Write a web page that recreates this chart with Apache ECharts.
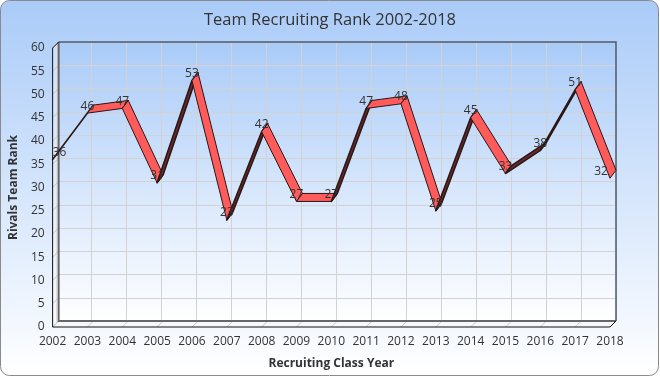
<!DOCTYPE html>
<html>
<head>
<meta charset="utf-8">
<script src="https://cdn.jsdelivr.net/npm/echarts@6/dist/echarts.min.js"></script>
<style>
html, body { margin: 0; padding: 0; background: #fff; }
#chart { width: 660px; height: 377px; }
</style>
</head>
<body>
<div id="chart"></div>
<script>
var years = ['2002', '2003', '2004', '2005', '2006', '2007', '2008', '2009', '2010',
    '2011', '2012', '2013', '2014', '2015', '2016', '2017', '2018'];
var ranks = [36, 46, 47, 31, 53, 23, 42, 27, 27, 47, 48, 25, 45, 33, 38, 51, 32];
var rankMin = 0;
var rankMax = 60;
var rankStep = 5;

var chartDom = document.getElementById('chart');
var myChart = echarts.init(chartDom);
var option;

var font = '"Open Sans", "DejaVu Sans", sans-serif';
// 3d depth of the walls and of the ribbon
var wallDX = 6, wallDY = -6;
var ribDX = 6, ribDY = -8;

function sky() {
    return new echarts.graphic.LinearGradient(0, 0, 0, 1, [
        { offset: 0, color: '#aacbf8' },
        { offset: 1, color: '#ffffff' }
    ]);
}

function shift(p, dx, dy) {
    return [p[0] + dx, p[1] + dy];
}

var segments = ranks.slice(0, -1).map(function (v, i) {
    return [i, v, i + 1, ranks[i + 1]];
});
var points = ranks.map(function (v, i) {
    return [i, v];
});

// floor, side wall, front edges
function renderFrame(params, api) {
    if (params.dataIndex !== 0) return;
    var last = years.length - 1;
    var fl = api.coord([0, rankMin]);
    var fr = api.coord([last, rankMin]);
    var ft = api.coord([0, rankMax]);
    var children = [];
    var dim = '#c8c8c8';
    children.push({
        type: 'polygon',
        shape: { points: [ft, fl, shift(fl, wallDX, wallDY), shift(ft, wallDX, wallDY)] },
        style: { fill: 'rgba(255,255,255,0.35)' }
    });
    children.push({
        type: 'polygon',
        shape: { points: [fl, fr, shift(fr, wallDX, wallDY), shift(fl, wallDX, wallDY)] },
        style: { fill: '#f6f8fb' }
    });
    for (var i = 0; i <= last; i++) {
        var p = api.coord([i, rankMin]);
        children.push({
            type: 'line',
            shape: { x1: p[0], y1: p[1], x2: p[0] + wallDX, y2: p[1] + wallDY },
            style: { stroke: dim, lineWidth: 1 }
        });
    }
    for (var v = rankMin; v <= rankMax; v += rankStep) {
        var q = api.coord([0, v]);
        children.push({
            type: 'line',
            shape: { x1: q[0], y1: q[1], x2: q[0] + wallDX, y2: q[1] + wallDY },
            style: { stroke: dim, lineWidth: 1 }
        });
    }
    var bl = shift(fl, wallDX, wallDY);
    var br = shift(fr, wallDX, wallDY);
    var bt = shift(ft, wallDX, wallDY);
    var btr = [br[0], bt[1]];
    children.push({ type: 'polyline', shape: { points: [bt, bl, br] }, style: { stroke: '#666', lineWidth: 2, fill: null } });
    children.push({ type: 'polyline', shape: { points: [bt, btr, br] }, style: { stroke: '#4d5a6e', lineWidth: 1.5, fill: null } });
    children.push({ type: 'polyline', shape: { points: [bt, ft, fl, fr, br] }, style: { stroke: '#111', lineWidth: 1, fill: null } });
    return { type: 'group', children: children };
}

function renderRibbon(params, api) {
    var a = api.coord([api.value(0), api.value(1)]);
    var b = api.coord([api.value(2), api.value(3)]);
    var rise = a[1] - b[1];
    var fill = rise > 10 ? '#6a2b2b' : '#ff5b5b';
    return {
        type: 'polygon',
        shape: { points: [a, b, shift(b, ribDX, ribDY), shift(a, ribDX, ribDY)] },
        style: { fill: fill, stroke: '#2b1616', lineWidth: rise > 10 ? 1.6 : 1, lineJoin: 'round' }
    };
}

function renderLabel(params, api) {
    var p = api.coord([api.value(0), api.value(1)]);
    var lo = api.coord([0, rankMin])[0] + 7;
    var hi = api.coord([years.length - 1, rankMin])[0] - 9;
    var x = Math.min(Math.max(p[0], lo), hi);
    return {
        type: 'text',
        style: {
            x: x, y: p[1] - 7,
            text: String(api.value(1)),
            align: 'center', verticalAlign: 'middle',
            fill: '#333', font: '12px ' + font
        }
    };
}

option = {
    animation: false,
    textStyle: { fontFamily: font },
    graphic: [{
        type: 'rect',
        z: -10,
        silent: true,
        shape: { x: 0.5, y: 0.5, width: 658, height: 375, r: 9 },
        style: { fill: sky(), stroke: '#8a8a8a', lineWidth: 1 }
    }],
    title: {
        text: 'Team Recruiting Rank 2002-2018',
        left: 'center',
        top: 7,
        textStyle: { fontSize: 16.5, fontWeight: 'normal', color: '#333', fontFamily: font }
    },
    grid: [
        { left: 50, right: 50, top: 48, bottom: 50 },
        { left: 56, right: 44, top: 42, bottom: 56, show: true, backgroundColor: sky(), borderWidth: 0, z: 0 }
    ],
    xAxis: [
        {
            type: 'category', gridIndex: 0, data: years, boundaryGap: false,
            name: 'Recruiting Class Year', nameLocation: 'middle', nameGap: 31,
            nameTextStyle: { fontSize: 12, fontWeight: 'bold', color: '#333', fontFamily: font },
            axisLine: { show: false }, axisTick: { show: false },
            axisLabel: { color: '#333', fontSize: 12, margin: 9, interval: 0, fontFamily: font },
            splitLine: { show: false }
        },
        {
            type: 'category', gridIndex: 1, data: years, boundaryGap: false,
            axisLine: { show: false }, axisTick: { show: false }, axisLabel: { show: false },
            splitLine: { show: true, interval: 0, lineStyle: { color: '#d2d2d2' } }
        }
    ],
    yAxis: [
        {
            type: 'value', gridIndex: 0, min: rankMin, max: rankMax, interval: rankStep,
            name: 'Rivals Team Rank', nameLocation: 'middle', nameGap: 24,
            nameTextStyle: { fontSize: 12, fontWeight: 'bold', color: '#333', fontFamily: font },
            axisLine: { show: false }, axisTick: { show: false },
            axisLabel: { color: '#333', fontSize: 12, margin: 8, fontFamily: font },
            splitLine: { show: false }
        },
        {
            type: 'value', gridIndex: 1, min: rankMin, max: rankMax, interval: rankStep,
            axisLine: { show: false }, axisTick: { show: false }, axisLabel: { show: false },
            splitLine: { show: true, lineStyle: { color: '#d2d2d2' } }
        }
    ],
    series: [
        {
            type: 'custom', name: 'frame', xAxisIndex: 0, yAxisIndex: 0, z: 2, clip: false,
            renderItem: renderFrame, data: [[0, 0]], silent: true
        },
        {
            type: 'custom', name: 'Rank', xAxisIndex: 0, yAxisIndex: 0, z: 3, clip: false,
            renderItem: renderRibbon, data: segments
        },
        {
            type: 'custom', name: 'labels', xAxisIndex: 0, yAxisIndex: 0, z: 4, clip: false,
            renderItem: renderLabel, data: points, silent: true
        }
    ]
};
option && myChart.setOption(option);
</script>
</body>
</html>
